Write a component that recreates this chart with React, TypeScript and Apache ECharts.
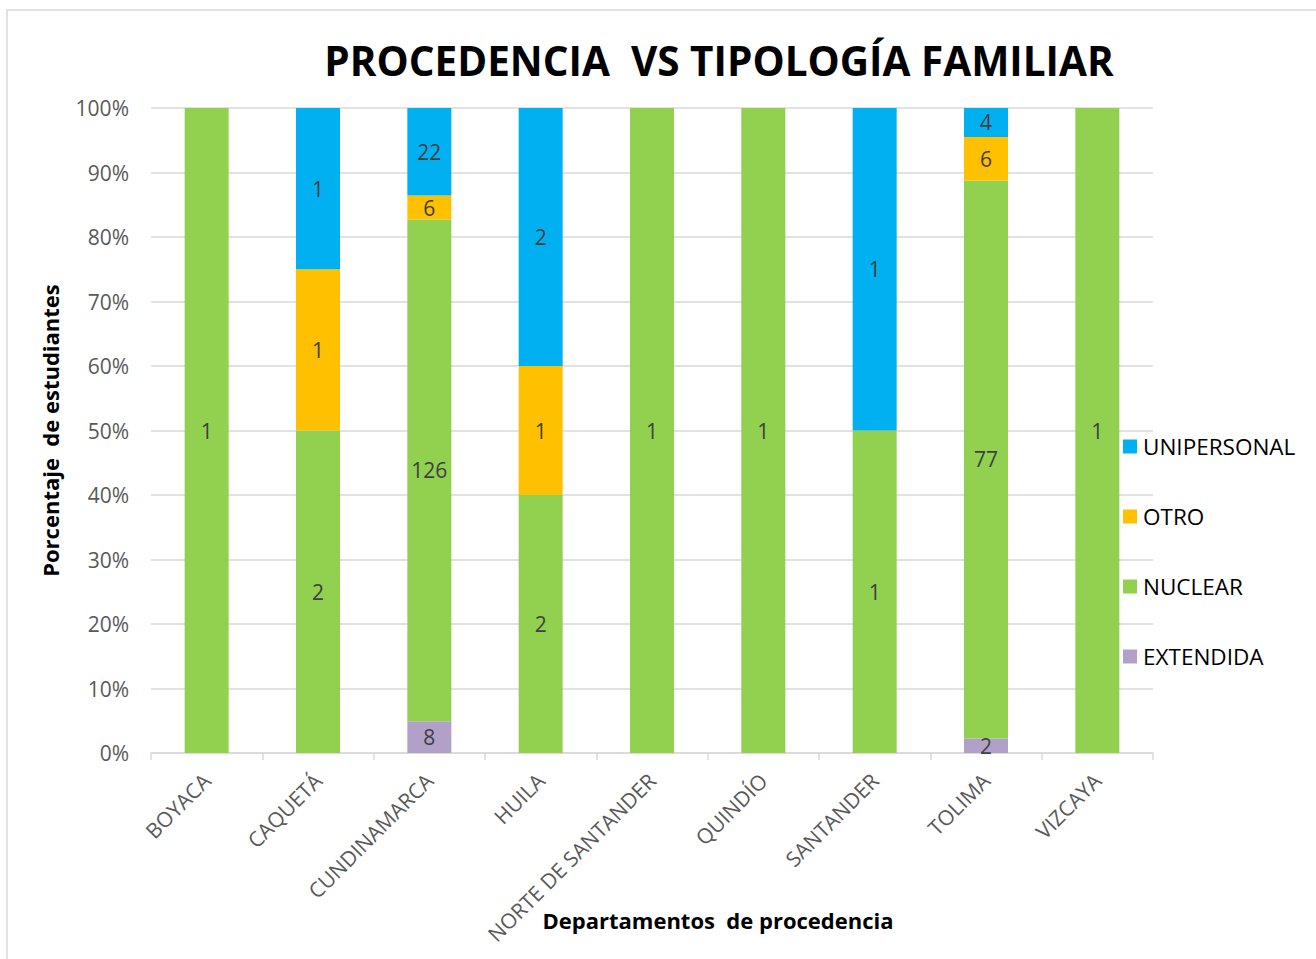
import React, { useEffect, useRef } from "react";
import * as echarts from "echarts";

const categories = [
  "BOYACA",
  "CAQUETÁ",
  "CUNDINAMARCA",
  "HUILA",
  "NORTE DE SANTANDER",
  "QUINDÍO",
  "SANTANDER",
  "TOLIMA",
  "VIZCAYA",
];

const extendida = [0, 0, 8, 0, 0, 0, 0, 2, 0];
const nuclear = [1, 2, 126, 2, 1, 1, 1, 77, 1];
const otro = [0, 1, 6, 1, 0, 0, 0, 6, 0];
const unipersonal = [0, 1, 22, 2, 0, 0, 1, 4, 0];

const seriesDefs = [
  { name: "EXTENDIDA", values: extendida, color: "#B1A0C7" },
  { name: "NUCLEAR", values: nuclear, color: "#92D050" },
  { name: "OTRO", values: otro, color: "#FFC000" },
  { name: "UNIPERSONAL", values: unipersonal, color: "#00B0F0" },
];

const legendOrder = ["UNIPERSONAL", "OTRO", "NUCLEAR", "EXTENDIDA"];

const FONT = "'Open Sans', 'Liberation Sans', sans-serif";

export default function App() {
  const ref = useRef<HTMLDivElement>(null);

  useEffect(() => {
    if (!ref.current) return;
    const chart = echarts.init(ref.current, null, { renderer: "svg" });
    const totals = categories.map((_, i) =>
      seriesDefs.reduce((s, d) => s + d.values[i], 0)
    );

    const series = seriesDefs.map((d) => ({
      name: d.name,
      type: "bar",
      stack: "total",
      barWidth: 44,
      itemStyle: { color: d.color },
      label: {
        show: true,
        position: "inside",
        color: "#404040",
        fontSize: 21,
        fontFamily: FONT,
        formatter: (p: any) => {
          const v = d.values[p.dataIndex];
          return v ? String(v) : "";
        },
      },
      data: d.values.map((v, i) => (v ? (v / totals[i]) * 100 : 0)),
    }));

    chart.setOption({
      animation: false,
      backgroundColor: "#ffffff",
      title: {
        text: "PROCEDENCIA  VS TIPOLOGÍA FAMILIAR",
        left: 714,
        top: 35,
        textAlign: "center",
        textStyle: {
          fontFamily: FONT,
          fontWeight: "bold",
          fontSize: 40.5,
          color: "#000000",
        },
      },
      legend: {
        orient: "vertical",
        left: 1118,
        top: 430,
        itemWidth: 14,
        itemHeight: 14,
        itemGap: 47,
        icon: "rect",
        data: legendOrder,
        textStyle: {
          fontFamily: FONT,
          fontSize: 22.5,
          color: "#000000",
          padding: [0, 0, 0, 1],
        },
      },
      grid: {
        left: 151,
        right: 163,
        top: 108,
        bottom: 206,
        containLabel: false,
      },
      xAxis: {
        type: "category",
        data: categories,
        axisLine: { lineStyle: { color: "#D9D9D9", width: 1.5 } },
        axisTick: {
          show: true,
          length: 7,
          lineStyle: { color: "#D9D9D9", width: 1.5 },
        },
        axisLabel: {
          rotate: 45,
          margin: 24,
          fontFamily: FONT,
          fontSize: 21,
          color: "#595959",
          interval: 0,
        },
      },
      yAxis: {
        type: "value",
        min: 0,
        max: 100,
        interval: 10,
        name: "Porcentaje  de estudiantes",
        nameLocation: "middle",
        nameGap: 90,
        nameTextStyle: {
          fontFamily: FONT,
          fontWeight: "bold",
          fontSize: 22,
          color: "#000000",
        },
        axisLine: { show: false },
        axisTick: { show: false },
        splitLine: { lineStyle: { color: "#D9D9D9", width: 1.5 } },
        axisLabel: {
          formatter: "{value}%",
          margin: 22,
          fontFamily: FONT,
          fontSize: 21,
          color: "#595959",
        },
      },
      graphic: [
        {
          type: "rect",
          shape: { x: 7, y: 10, width: 1330, height: 980 },
          style: { fill: "none", stroke: "#D9D9D9", lineWidth: 1.5 },
          silent: true,
        },
        {
          type: "text",
          x: 718,
          y: 920,
          style: {
            text: "Departamentos  de procedencia",
            fontFamily: FONT,
            fontWeight: "bold",
            fontSize: 22,
            fill: "#000000",
            align: "center",
            verticalAlign: "middle",
          },
          silent: true,
        },
      ],
      series,
    });

    return () => chart.dispose();
  }, []);

  return (
    <div
      ref={ref}
      style={{
        position: "fixed",
        left: 0,
        top: 0,
        width: 1316,
        height: 959,
      }}
    />
  );
}
